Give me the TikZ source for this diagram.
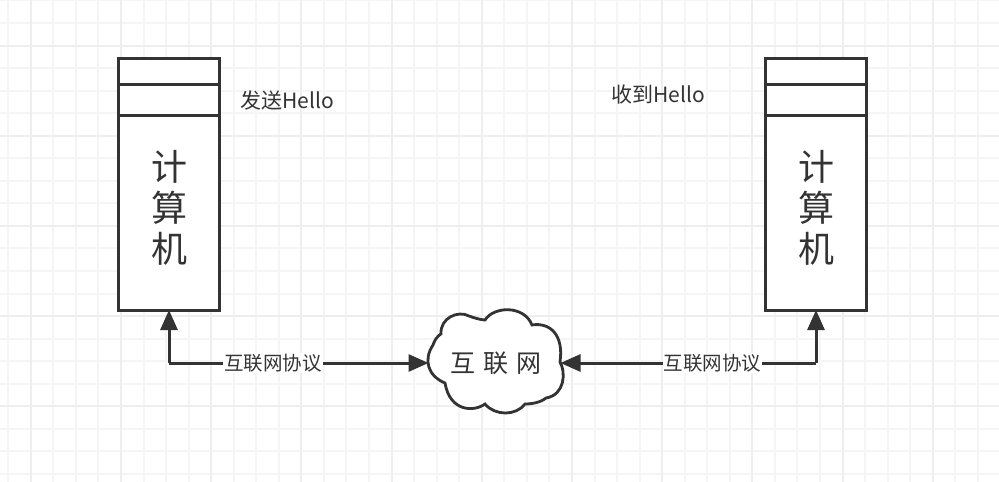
\documentclass[tikz,border=0pt]{standalone}
\usepackage{fontspec}
\setmainfont{Noto Sans CJK SC}
\usetikzlibrary{arrows.meta,calc}
\definecolor{ink}{HTML}{333333}
\definecolor{gridminor}{HTML}{F5F5F5}
\definecolor{gridmajor}{HTML}{EEEEEE}
\tikzset{
  compbox/.style={draw=ink,line width=3pt,fill=white,minimum width=101pt,minimum height=252pt,inner sep=0pt,outer sep=0pt},
  bar/.style={draw=ink,line width=3pt},
  bigtext/.style={text=ink,font=\fontsize{36}{40}\selectfont,align=center,inner sep=0pt},
  small/.style={text=ink,font=\fontsize{21}{25}\selectfont,inner sep=0pt},
  link/.style={draw=ink,line width=3pt,-{Triangle[length=20pt,width=17pt]}},
  linklabel/.style={text=ink,fill=white,font=\fontsize{19.5}{23}\selectfont,inner sep=1pt},
}
\begin{document}
\begin{tikzpicture}[x=1pt,y=-1pt]
\useasboundingbox (0,0) rectangle (999,482);
\fill[white] (0,0) rectangle (999,482);
\foreach \i in {0,...,44} {
  \pgfmathsetmacro{\gx}{8.2+22.55*\i}
  \draw[gridminor,line width=2pt] (\gx,0) -- (\gx,482);
}
\foreach \i in {0,...,21} {
  \pgfmathsetmacro{\gy}{0.4+22.55*\i}
  \draw[gridminor,line width=2pt] (0,\gy) -- (999,\gy);
}
\foreach \i in {0,...,10} {
  \pgfmathsetmacro{\gx}{30.7+90.2*\i}
  \draw[gridmajor,line width=2pt] (\gx,0) -- (\gx,482);
}
\foreach \i in {0,...,5} {
  \pgfmathsetmacro{\gy}{45.5+90.2*\i}
  \draw[gridmajor,line width=2pt] (0,\gy) -- (999,\gy);
}
% computers
\node[compbox] (pcA) at (168.8,184) {};
\node[compbox] (pcB) at (815.8,184) {};
\coordinate (a1l) at (pcA.west |- 0,84.5); \coordinate (a1r) at (pcA.east |- 0,84.5);
\coordinate (a2l) at (pcA.west |- 0,115); \coordinate (a2r) at (pcA.east |- 0,115);
\coordinate (b1l) at (pcB.west |- 0,84.5); \coordinate (b1r) at (pcB.east |- 0,84.5);
\coordinate (b2l) at (pcB.west |- 0,115); \coordinate (b2r) at (pcB.east |- 0,115);
\draw[bar] (a1l) -- (a1r);
\draw[bar] (a2l) -- (a2r);
\draw[bar] (b1l) -- (b1r);
\draw[bar] (b2l) -- (b2r);
\node[bigtext] (ta1) at (169.5,166.5) {计};
\node[bigtext] (ta2) at (169.5,207.5) {算};
\node[bigtext] (ta3) at (169.5,248.5) {机};
\node[bigtext] (tb1) at (816.5,166.5) {计};
\node[bigtext] (tb2) at (816.5,207.5) {算};
\node[bigtext] (tb3) at (816.5,248.5) {机};
\node[small,anchor=west] (send) at (240,100.5) {发送Hello};
\node[small,anchor=west] (recv) at (611,94.5) {收到Hello};
% cloud
\draw[draw=ink,line width=2.8pt,fill=white]
  (433,345)
  .. controls (436,336) and (441,334) .. (441,334)
  .. controls (440,318) and (458,310) .. (469,316)
  .. controls (474,318) and (482,320) .. (485,320)
  .. controls (494,306) and (524,305) .. (532,325)
  .. controls (550,322) and (564,335) .. (560,362)
  .. controls (566,372) and (565,395) .. (546,398)
  .. controls (540,403) and (530,404) .. (525,404)
  .. controls (516,416) and (495,416) .. (485,404)
  .. controls (474,412) and (450,412) .. (445,383)
  .. controls (428,376) and (423,360) .. (433,345) -- cycle;
\node[text=ink,font=\fontsize{25}{28}\selectfont,inner sep=0pt] (netlabel) at (496,363) {互\hspace{8pt}联\hspace{8pt}网};
% connectors
\coordinate (jA) at (169,363);
\coordinate (jB) at (816,363);
\coordinate (netW) at (428.5,363);
\coordinate (netE) at (560.5,363);
\draw[link] (jA) -- (jA |- pcA.south);
\draw[link] (jA) -- node[linklabel,pos=0.4] (la) {互联网协议} (netW);
\draw[link] (jB) -- (jB |- pcB.south);
\draw[link] (jB) -- node[linklabel,pos=0.405] (lb) {互联网协议} (netE);
\end{tikzpicture}
\end{document}
